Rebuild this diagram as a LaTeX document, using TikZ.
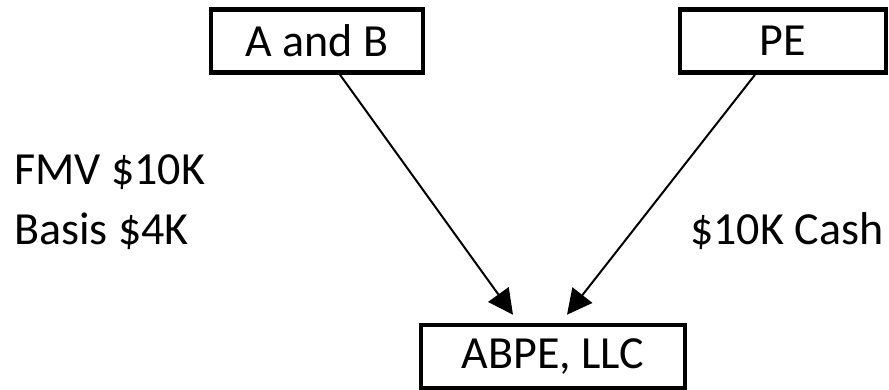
\documentclass[tikz,border=0pt]{standalone}
\usepackage{fontspec}
\setmainfont{Carlito}
\usetikzlibrary{arrows.meta}
\begin{document}
\begin{tikzpicture}[x=1pt,y=-1pt,
  party/.style={draw=black, line width=4.5pt, minimum height=63pt, inner sep=0pt,
    font=\fontsize{46}{54}\selectfont},
  note/.style={anchor=base west, inner sep=0pt, font=\fontsize{46}{54}\selectfont},
  flow/.style={line width=2pt, -{Triangle[length=25pt,width=25pt]}}]
\useasboundingbox (0,0) rectangle (889,390);
% the three parties
\node[party, minimum width=212pt] (ab) at (317,41) {A and B};
\node[party, minimum width=206pt] (pe) at (783,41) {PE};
\node[party, minimum width=264pt] (llc) at (553,356.5) {ABPE, LLC};
% contribution labels
\node[note] (fmv) at (14,185) {FMV \$10K};
\node[note] (basis) at (14,245) {Basis \$4K};
\node[note] (cash) at (690,245) {\$10K Cash};
% contributions into the LLC
\draw[flow] ([xshift=23pt]ab.south) -- ([xshift=-40pt,yshift=8pt]llc.north);
\draw[flow] ([xshift=-28pt]pe.south) -- ([xshift=14pt,yshift=8pt]llc.north);
\end{tikzpicture}
\end{document}
